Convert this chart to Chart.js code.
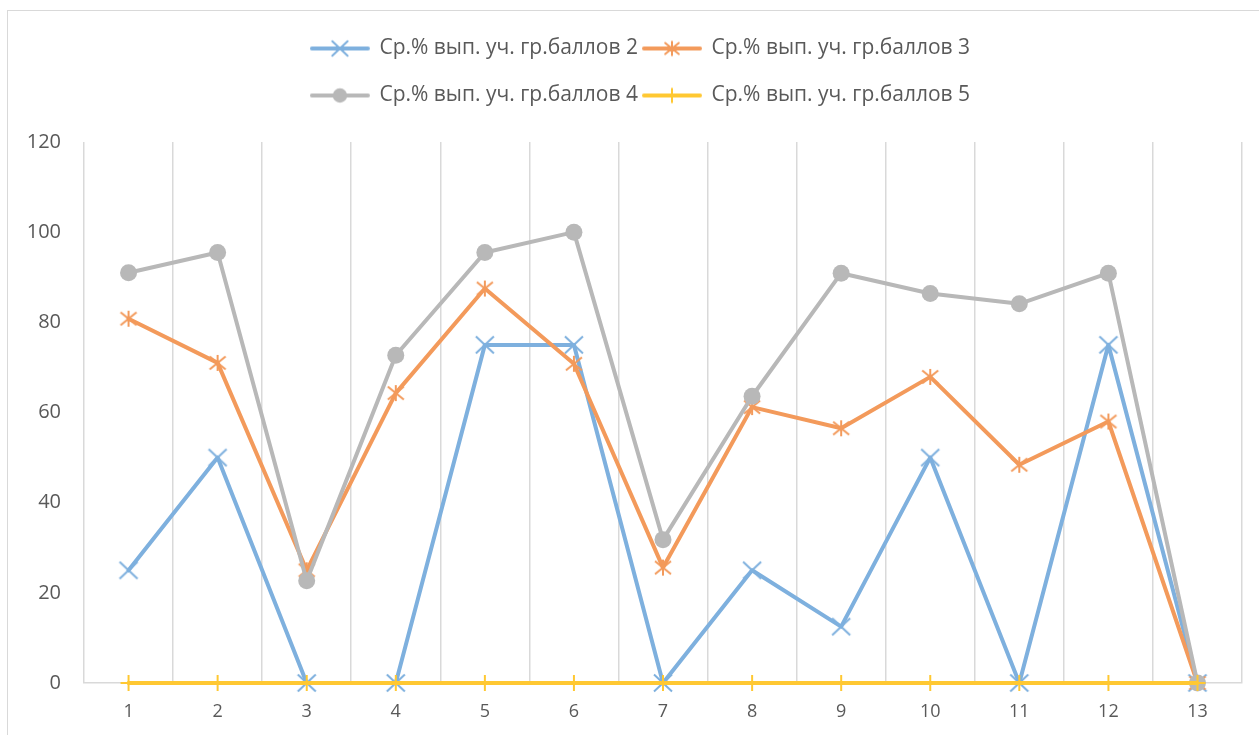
<!DOCTYPE html>
<html lang="ru">
<head>
    <meta charset="UTF-8">
    <title>Ср.% вып. уч. гр.баллов</title>
    <script src="https://cdn.jsdelivr.net/npm/chart.js"></script>
    <style>
        html, body { margin: 0; padding: 0; background: #fff; overflow: hidden; }
        .frame { position: absolute; left: 7px; top: 10px; width: 1400px; height: 900px;
                 border-left: 1.5px solid #d9d9d9; border-top: 1.5px solid #d9d9d9; }
        .chart-container { position: absolute; left: 0; top: 0; width: 1259px; height: 735px; }
    </style>
</head>
<body>
<div class="frame"></div>
<div class="chart-container">
    <canvas id="scores-chart"></canvas>
</div>
<script>
    // data
    const categories = ['1', '2', '3', '4', '5', '6', '7', '8', '9', '10', '11', '12', '13'];
    const group2 = [25, 50, 0, 0, 75, 75, 0, 25, 12.5, 50, 0, 75, 0];
    const group3 = [80.8, 71, 25, 64.3, 87.5, 70.8, 25.6, 61.2, 56.5, 67.9, 48.4, 58, 0];
    const group4 = [91, 95.5, 22.7, 72.7, 95.5, 100, 31.8, 63.6, 90.9, 86.4, 84.1, 90.9, 0];
    const group5 = [0, 0, 0, 0, 0, 0, 0, 0, 0, 0, 0, 0, 0];
    const seriesNames = [
        'Ср.% вып. уч. гр.баллов 2',
        'Ср.% вып. уч. гр.баллов 3',
        'Ср.% вып. уч. гр.баллов 4',
        'Ср.% вып. уч. гр.баллов 5'
    ];
    const yMin = 0, yMax = 120, yStep = 20;

    const FONT = "'Open Sans', sans-serif";
    const TEXT = '#595959';
    const GRID = '#d9d9d9';
    const colors = ['#7eb0de', '#f39a5b', '#b8b8b8', '#ffc832'];
    const markers = ['x', 'star', 'circle', 'plus'];

    function drawMarker(c, kind, x, y, color, s) {
        c.strokeStyle = color;
        c.fillStyle = color;
        c.lineWidth = 2;
        c.beginPath();
        if (kind === 'x') {
            c.moveTo(x - 9 * s, y - 8.5 * s); c.lineTo(x + 9 * s, y + 8.5 * s);
            c.moveTo(x - 9 * s, y + 8.5 * s); c.lineTo(x + 9 * s, y - 8.5 * s);
        } else if (kind === 'star') {
            c.moveTo(x - 8 * s, y - 6.5 * s); c.lineTo(x + 8 * s, y + 6.5 * s);
            c.moveTo(x - 8 * s, y + 6.5 * s); c.lineTo(x + 8 * s, y - 6.5 * s);
            c.moveTo(x, y - 8 * s); c.lineTo(x, y + 8 * s);
        } else if (kind === 'plus') {
            c.moveTo(x, y - 8 * s); c.lineTo(x, y + 8 * s);
            c.moveTo(x - 8 * s, y); c.lineTo(x + 8 * s, y);
        }
        c.stroke();
        if (kind === 'circle') {
            c.beginPath();
            c.arc(x, y, 8.5 * s, 0, Math.PI * 2);
            c.fill();
        }
    }

    function markerImage(i) {
        const cv = document.createElement('canvas');
        cv.width = 24; cv.height = 24;
        drawMarker(cv.getContext('2d'), markers[i], 12, 12, colors[i], 1);
        return cv;
    }

    // legend icon: line with marker, shifted left so the gap between items stays small
    function legendIcon(i) {
        const cv = document.createElement('canvas');
        cv.width = 81; cv.height = 24;
        const c = cv.getContext('2d');
        c.strokeStyle = colors[i];
        c.lineWidth = 4;
        c.lineCap = 'round';
        c.beginPath();
        c.moveTo(2, 12); c.lineTo(58, 12);
        c.stroke();
        drawMarker(c, markers[i], 30, 12, colors[i], 0.85);
        return cv;
    }

    const seriesData = [group2, group3, group4, group5];
    const datasets = seriesData.map((d, i) => ({
        label: seriesNames[i],
        data: d,
        borderColor: colors[i],
        backgroundColor: colors[i],
        borderWidth: 4,
        borderCapStyle: 'round',
        borderJoinStyle: 'round',
        tension: 0,
        pointStyle: markers[i] === 'circle' ? 'circle' : markerImage(i),
        pointRadius: markers[i] === 'circle' ? 8.5 : 9,
        pointBorderWidth: 0,
        pointBackgroundColor: colors[i],
        clip: false,
        order: 4 - i
    }));

    const ctx = document.getElementById('scores-chart').getContext('2d');
    const chart = new Chart(ctx, {
        type: 'line',
        data: { labels: categories, datasets: datasets },
        options: {
            responsive: true,
            maintainAspectRatio: false,
            animation: false,
            events: [],
            layout: { padding: { top: 12, left: 22, right: 17, bottom: 0 } },
            plugins: {
                tooltip: { enabled: false },
                legend: {
                    position: 'top',
                    labels: {
                        usePointStyle: true,
                        pointStyleWidth: 37,
                        padding: 26,
                        color: TEXT,
                        font: { family: FONT, size: 21 },
                        sort: (a, b) => a.datasetIndex - b.datasetIndex,
                        generateLabels: (ch) => {
                            const items = Chart.defaults.plugins.legend.labels.generateLabels(ch);
                            items.forEach(it => { it.pointStyle = legendIcon(it.datasetIndex); });
                            return items;
                        }
                    }
                }
            },
            scales: {
                x: {
                    offset: true,
                    grid: { offset: true, color: GRID, lineWidth: 1.5, drawTicks: false },
                    border: { display: true, color: GRID, width: 1.5 },
                    ticks: { color: TEXT, font: { family: FONT, size: 18 }, padding: 18, maxRotation: 0, autoSkip: false },
                    afterFit: (s) => { s.height = 52; }
                },
                y: {
                    min: yMin,
                    max: yMax,
                    grid: { display: false, drawTicks: false },
                    border: { display: false },
                    ticks: { stepSize: yStep, color: TEXT, font: { family: FONT, size: 20 }, padding: 23 },
                    afterFit: (s) => { s.width = 62; }
                }
            }
        }
    });

    // two legend rows as in the original, extra space under the legend
    const legendFit = chart.legend.fit;
    chart.legend.fit = function () {
        const fullWidth = this.maxWidth;
        this.maxWidth = 800;
        legendFit.call(this);
        this.maxWidth = fullWidth;
        this.width = fullWidth;
        this.lineWidths = this.lineWidths.map(w => w - 38);
        this.height += 26;
    };
    chart.update();
</script>
</body>
</html>
